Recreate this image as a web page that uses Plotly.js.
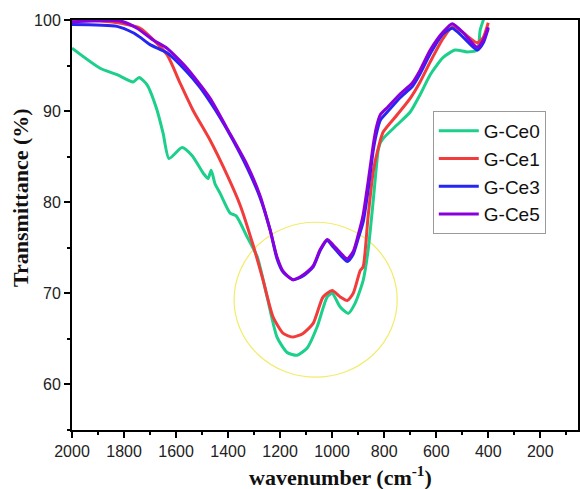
<!DOCTYPE html>
<html><head><meta charset="utf-8">
<script src="https://cdn.plot.ly/plotly-3.0.1.min.js"></script>
<style>body{margin:0;padding:0;background:#fff}#chart{width:580px;height:489px}</style>
</head><body><div id="chart"></div>
<script>
const seriesNames = ["G-Ce0", "G-Ce1", "G-Ce3", "G-Ce5"];
const seriesColors = ["#1ccf8a", "#f23c3c", "#2626f2", "#8a00dc"];

const wnCe0 = [2000,1892,1827,1765,1742,1712,1673,1650,1627,1577,1538,1496,1477,1465,1450,1431,1392,1369,1327,1288,1250,1212,1173,1135,1096,1058,1019,1000,969,938,912,881,862,842,823,815,804,750,700,662,623,573,527,481,442,431,419,410];
const tCe0  = [96.9,94.7,94.0,93.2,93.7,92.9,90.1,87.6,84.8,86.0,85.1,83.2,82.6,83.5,82.0,81.0,78.8,78.5,76.2,74.0,69.6,65.2,63.5,63.2,64.0,66.3,69.6,70.0,68.5,67.8,68.9,71.4,74.7,80.2,85.7,86.5,87.0,88.5,89.9,91.8,94.0,95.9,96.7,96.5,96.7,98.9,100.0,101.0];

const wnCe1 = [2000,1892,1804,1738,1635,1585,1535,1469,1404,1354,1304,1265,1227,1188,1150,1112,1073,1035,1000,969,942,919,892,881,862,842,823,804,750,700,662,623,573,535,496,442,419,400];
const tCe1  = [99.9,99.9,99.6,99.1,96.2,93.1,90.1,86.8,83.0,79.7,75.3,71.4,67.4,65.6,65.2,65.6,66.7,69.6,70.3,69.6,69.2,70.0,72.5,72.9,78.4,83.4,85.9,87.7,89.6,91.4,93.2,95.4,98.0,99.3,98.6,97.5,98.1,99.7];

const wnCe3 = [2000,1827,1765,1738,1700,1635,1558,1508,1469,1431,1381,1327,1277,1238,1212,1188,1150,1112,1073,1046,1019,996,942,919,900,881,862,842,831,815,788,738,692,662,623,573,538,496,442,419,400];
const tCe3  = [99.5,99.3,98.6,98.1,97.3,96.4,94.3,92.6,91.0,89.3,86.8,83.8,80.5,76.9,73.8,72.3,71.5,71.9,72.9,74.7,75.8,75.1,73.5,74.3,76.0,77.8,81.3,85.7,87.4,89.0,89.9,91.5,92.7,94.1,96.3,98.5,99.1,98.1,96.7,97.5,99.1];

const wnCe5 = [2000,1815,1750,1688,1635,1558,1469,1404,1327,1277,1238,1212,1188,1150,1112,1073,1046,1019,996,942,919,900,881,862,842,831,815,788,738,692,662,623,573,538,496,442,419,400];
const tCe5  = [99.8,99.9,99.1,97.8,96.9,94.7,91.4,88.1,84.1,80.7,76.9,74.0,72.4,71.5,72.0,73.0,74.8,75.9,75.3,73.8,74.6,76.4,78.6,82.2,86.3,88.1,89.6,90.4,91.9,93.1,94.5,96.7,98.7,99.6,98.6,97.0,97.8,99.2];

const xTicks = [2000,1800,1600,1400,1200,1000,800,600,400,200];
const yTicks = [60,70,80,90,100];

const xs = [wnCe0, wnCe1, wnCe3, wnCe5];
const ys = [tCe0, tCe1, tCe3, tCe5];

const traces = seriesNames.map((n, i) => ({
  x: xs[i], y: ys[i], name: n, type: "scatter", mode: "lines",
  line: {color: seriesColors[i], width: 3, shape: "spline", smoothing: 0.6}
}));

const layout = {
  width: 580, height: 489,
  margin: {l: 72, r: 2, t: 20, b: 59},
  paper_bgcolor: "#fff", plot_bgcolor: "#fff",
  showlegend: true,
  legend: {
    x: 0.713, y: 0.778, xanchor: "left", yanchor: "top",
    bordercolor: "#9a9a9a", borderwidth: 1, bgcolor: "rgba(255,255,255,0)",
    font: {family: "Liberation Sans, Arial, sans-serif", size: 19, color: "#111"},
    tracegroupgap: 0, itemwidth: 40
  },
  xaxis: {
    range: [2000, 55], tickvals: xTicks, ticktext: xTicks.map(String),
    showgrid: false, zeroline: false,
    showline: true, linecolor: "#000", linewidth: 2, mirror: true,
    ticks: "outside", ticklen: 6, tickwidth: 2, tickcolor: "#000",
    minor: {dtick: 100, tick0: 0, ticks: "outside", ticklen: 3, tickwidth: 2, tickcolor: "#000"},
    tickfont: {family: "Liberation Sans, Arial, sans-serif", size: 16, color: "#222"}
  },
  yaxis: {
    range: [55, 100], tickvals: yTicks, ticktext: yTicks.map(String),
    showgrid: false, zeroline: false,
    showline: true, linecolor: "#000", linewidth: 2, mirror: true,
    ticks: "outside", ticklen: 6, tickwidth: 2, tickcolor: "#000",
    minor: {dtick: 5, tick0: 0, ticks: "outside", ticklen: 3, tickwidth: 2, tickcolor: "#000"},
    tickfont: {family: "Liberation Sans, Arial, sans-serif", size: 16, color: "#222"}
  },
  shapes: [{
    type: "circle", xref: "x", yref: "y",
    x0: 1377, x1: 750, y0: 60.8, y1: 77.8,
    line: {color: "#f2ec6a", width: 1.2}, layer: "below"
  }],
  annotations: [
    {text: "<b>Transmittance (%)</b>", xref: "paper", yref: "paper",
     x: (20 - 72) / 506, y: (430 - 198) / 410, xanchor: "center", yanchor: "middle",
     textangle: -90, showarrow: false,
     font: {family: "Liberation Serif, Times New Roman, serif", size: 22, color: "#111"}},
    {text: "<b>wavenumber (cm<sup>-1</sup>)</b>", xref: "paper", yref: "paper",
     x: (340 - 72) / 506, y: -(476 - 430) / 410, xanchor: "center", yanchor: "middle",
     showarrow: false,
     font: {family: "Liberation Serif, Times New Roman, serif", size: 22, color: "#111"}}
  ]
};

Plotly.newPlot("chart", traces, layout, {displayModeBar: false, staticPlot: true});
</script></body></html>
